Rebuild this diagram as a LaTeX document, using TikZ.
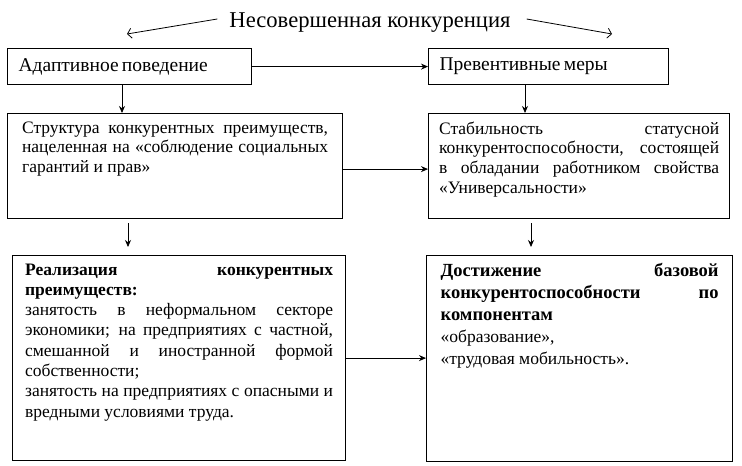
\documentclass[tikz,border=0pt]{standalone}
\usepackage{fontspec}
\setmainfont{Liberation Serif}
\usetikzlibrary{arrows.meta}
\tikzset{
  box/.style={draw, line width=1.2pt, anchor=north west, rectangle, inner sep=0pt, minimum width=0pt, minimum height=0pt},
  arr/.style={-{Stealth[length=7pt,width=6pt]}, line width=0.8pt},
  openarr/.style={-{Straight Barb[length=4pt,width=10pt]}, line width=0.8pt},
}
\newcommand{\boxtxt}[4]{\parbox[c][#2][t]{#1}{\fontsize{17.5}{#3}\selectfont
  \spaceskip=0.25em plus 0.8em minus 0.13em \xspaceskip=\spaceskip #4}}
\begin{document}
\begin{tikzpicture}[x=1pt,y=-1pt]
\useasboundingbox (0,0) rectangle (742,466);
\node[inner sep=0pt, anchor=base] (title) at (370,27) {\fontsize{22.6}{26}\selectfont Несовершенная конкуренция};
\coordinate (tl) at (127,34);
\coordinate (tr) at (612,34);
\node[box, inner xsep=11pt, minimum height=36pt, text width=222pt, align=left] (a) at (7,48)
  {\fontsize{19.5}{22}\selectfont Адаптивное поведение};
\node[box, inner xsep=11pt, minimum height=36pt, text width=218pt, align=left] (b) at (428,48)
  {\fontsize{19.5}{22}\selectfont Превентивные меры};
\node[box, inner xsep=14.5pt, inner ysep=8pt] (c) at (7,113)
  {\boxtxt{306pt}{89pt}{19.7}{Структура конкурентных преимуществ,\linebreak нацеленная на «соблюдение социальных\linebreak гарантий и прав»}};
\node[box, inner xsep=10.5pt, inner ysep=8pt] (d) at (428,113)
  {\boxtxt{280pt}{89pt}{19.7}{Стабильность статусной\linebreak конкурентоспособности, состоящей\linebreak в обладании работником свойства\linebreak «Универсальности»}};
\node[box, inner xsep=12.5pt, inner ysep=8pt] (e) at (12,255)
  {\boxtxt{308pt}{189pt}{20.3}{\textbf{Реализация конкурентных\linebreak преимуществ:}\\
  занятость в неформальном секторе\linebreak экономики; на предприятиях с частной,\linebreak смешанной и иностранной формой\linebreak собственности;\\
  занятость на предприятиях с опасными и\linebreak вредными условиями труда.}};
\node[box, inner xsep=14pt, inner ysep=8pt] (f) at (426,255)
  {\boxtxt{278pt}{190pt}{22}{{\fontsize{18.5}{22}\selectfont\bfseries Достижение базовой\linebreak конкурентоспособности по\linebreak компонентам}\\
  «образование»,\\
  «трудовая мобильность».}};
\draw[openarr] ([xshift=-12pt,yshift=8pt]title.base west) -- (tl);
\draw[openarr] ([xshift=16pt,yshift=8pt]title.base east) -- (tr);
\draw[arr] (a.east) -- (b.west);
\draw[arr] ([xshift=115pt]a.south west) -- ([xshift=115pt]c.north west);
\draw[arr] ([xshift=97pt]b.south west) -- ([xshift=97pt]d.north west);
\draw[arr] ([yshift=-3pt]c.east) -- ([yshift=-3pt]c.east -| d.west);
\draw[arr] ([xshift=121pt,yshift=-4pt]c.south west) -- ([xshift=116pt,yshift=8pt]e.north west);
\draw[arr] ([xshift=103pt,yshift=-4pt]d.south west) -- ([xshift=105pt,yshift=8pt]f.north west);
\draw[arr] (e.east) -- (e.east -| f.west);
\end{tikzpicture}
\end{document}
